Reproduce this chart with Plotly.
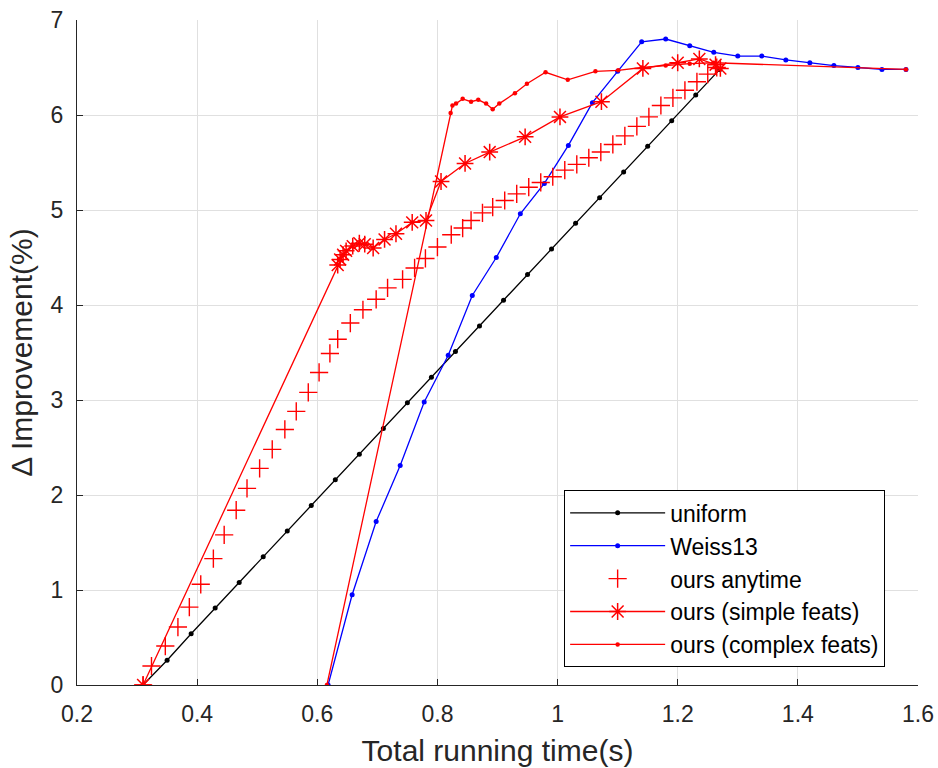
import plotly.graph_objects as go

# ---- data ----
uniform_x = [0.31, 0.35, 0.39, 0.43, 0.47, 0.51, 0.55, 0.59, 0.63, 0.67, 0.71, 0.75, 0.79,
             0.83, 0.87, 0.91, 0.95, 0.99, 1.03, 1.07, 1.11, 1.15, 1.19, 1.23, 1.27]
uniform_y = [0.0, 0.26, 0.54, 0.81, 1.08, 1.35, 1.62, 1.89, 2.16, 2.43, 2.70, 2.97, 3.24,
             3.51, 3.78, 4.05, 4.32, 4.59, 4.86, 5.13, 5.40, 5.67, 5.94, 6.21, 6.48]

weiss_x = [0.618, 0.658, 0.698, 0.738, 0.778, 0.818, 0.858, 0.898, 0.938, 0.978, 1.018, 1.058,
           1.10, 1.14, 1.18, 1.22, 1.26, 1.30, 1.34, 1.38, 1.42, 1.46, 1.50, 1.54, 1.58]
weiss_y = [0.0, 0.95, 1.72, 2.31, 2.98, 3.47, 4.10, 4.50, 4.96, 5.28, 5.68, 6.13,
           6.46, 6.77, 6.80, 6.73, 6.66, 6.62, 6.62, 6.58, 6.55, 6.52, 6.50, 6.48, 6.48]

anytime_x = [0.31, 0.324, 0.347, 0.368, 0.387, 0.406, 0.427, 0.445, 0.465, 0.483, 0.504, 0.525,
             0.546, 0.565, 0.585, 0.603, 0.621, 0.634, 0.655, 0.676, 0.698, 0.717, 0.742,
             0.762, 0.780, 0.800, 0.823, 0.842, 0.856, 0.875, 0.892, 0.912, 0.932, 0.952,
             0.972, 0.992, 1.012, 1.032, 1.052, 1.072, 1.092, 1.112, 1.132, 1.152, 1.172,
             1.192, 1.212, 1.232, 1.250, 1.265]
anytime_y = [0.0, 0.20, 0.41, 0.61, 0.82, 1.06, 1.33, 1.58, 1.84, 2.07, 2.28, 2.48,
             2.69, 2.88, 3.08, 3.29, 3.49, 3.64, 3.81, 3.95, 4.06, 4.18, 4.27,
             4.39, 4.49, 4.61, 4.74, 4.81, 4.89, 4.97, 5.03, 5.10, 5.17, 5.24,
             5.29, 5.35, 5.42, 5.48, 5.55, 5.61, 5.69, 5.78, 5.88, 5.98, 6.10,
             6.18, 6.26, 6.35, 6.43, 6.50]

simple_x = [0.31, 0.634, 0.638, 0.643, 0.648, 0.659, 0.670, 0.679, 0.693, 0.712, 0.731, 0.758,
            0.781, 0.806, 0.846, 0.887, 0.946, 1.004, 1.073, 1.142, 1.200, 1.236, 1.263, 1.271]
simple_y = [0.0, 4.42, 4.48, 4.53, 4.57, 4.62, 4.65, 4.64, 4.60, 4.69, 4.75, 4.87,
            4.89, 5.30, 5.49, 5.61, 5.77, 5.98, 6.14, 6.49, 6.55, 6.59, 6.53, 6.49]

complex_x = [0.616, 0.822, 0.825, 0.831, 0.842, 0.856, 0.868, 0.881, 0.892, 0.903, 0.929, 0.949,
             0.980, 1.017, 1.063, 1.101, 1.14, 1.18, 1.22, 1.26, 1.58]
complex_y = [0.0, 6.02, 6.10, 6.12, 6.17, 6.14, 6.16, 6.12, 6.06, 6.12, 6.23, 6.33,
             6.45, 6.37, 6.46, 6.47, 6.50, 6.52, 6.54, 6.55, 6.48]

x_ticks = [0.2, 0.4, 0.6, 0.8, 1.0, 1.2, 1.4, 1.6]
x_tick_text = ["0.2", "0.4", "0.6", "0.8", "1", "1.2", "1.4", "1.6"]
y_ticks = [0, 1, 2, 3, 4, 5, 6, 7]

RED = "#ff0000"
FONT = "Liberation Sans, Arial, sans-serif"

fig = go.Figure()
fig.add_trace(go.Scatter(x=uniform_x, y=uniform_y, name="uniform", mode="lines+markers",
                         line=dict(color="black", width=1.3),
                         marker=dict(color="black", size=5), legendgroup="a"))
fig.add_trace(go.Scatter(x=weiss_x, y=weiss_y, name="Weiss13", mode="lines+markers",
                         line=dict(color="#0000ff", width=1.3),
                         marker=dict(color="#0000ff", size=5), legendgroup="b"))
fig.add_trace(go.Scatter(x=anytime_x, y=anytime_y, name="ours anytime", mode="markers",
                         marker=dict(symbol="cross-thin", size=13, color=RED,
                                     line=dict(color=RED, width=1.4)), legendgroup="c"))
fig.add_trace(go.Scatter(x=simple_x, y=simple_y, name="ours (simple feats)", mode="lines+markers",
                         line=dict(color=RED, width=1.3),
                         marker=dict(symbol="asterisk-open", size=14, color=RED,
                                     line=dict(color=RED, width=1.5)), legendgroup="d"))
fig.add_trace(go.Scatter(x=complex_x, y=complex_y, name="ours (complex feats)", mode="lines+markers",
                         line=dict(color=RED, width=1.3),
                         marker=dict(color=RED, size=4.5), legendgroup="e"))

axis_common = dict(showline=True, linecolor="#262626", linewidth=1.3,
                   ticks="inside", ticklen=6, tickcolor="#262626", tickwidth=1.2,
                   showgrid=True, gridcolor="#e0e0e0", gridwidth=1, zeroline=False,
                   ticklabelstandoff=8, automargin=False,
                   tickfont=dict(family=FONT, size=23, color="#262626"))

fig.update_xaxes(range=[0.19999, 1.60001], tickvals=x_ticks, ticktext=x_tick_text,
                 title=dict(text="Total running time(s)", font=dict(family=FONT, size=30, color="#262626"),
                            standoff=14),
                 **axis_common)
fig.update_yaxes(range=[0, 7.0001], tickvals=y_ticks,
                 title=dict(text="Δ Improvement(%)", font=dict(family=FONT, size=30, color="#262626"),
                            standoff=8),
                 **axis_common)

fig.update_layout(
    width=938, height=768,
    margin=dict(l=77, r=20, t=20, b=83),
    plot_bgcolor="white", paper_bgcolor="white",
    legend=dict(x=0.579, y=0.293, xanchor="left", yanchor="top",
                bgcolor="white", bordercolor="black", borderwidth=1.2,
                font=dict(family=FONT, size=23, color="black"),
                traceorder="grouped", tracegroupgap=0, itemwidth=95,
                entrywidth=330, entrywidthmode="pixels"),
    showlegend=True,
)

fig.write_html("out.html", config={"responsive": False, "displayModeBar": False},
               post_script="document.body.style.margin='0';document.body.style.overflow='hidden';")
